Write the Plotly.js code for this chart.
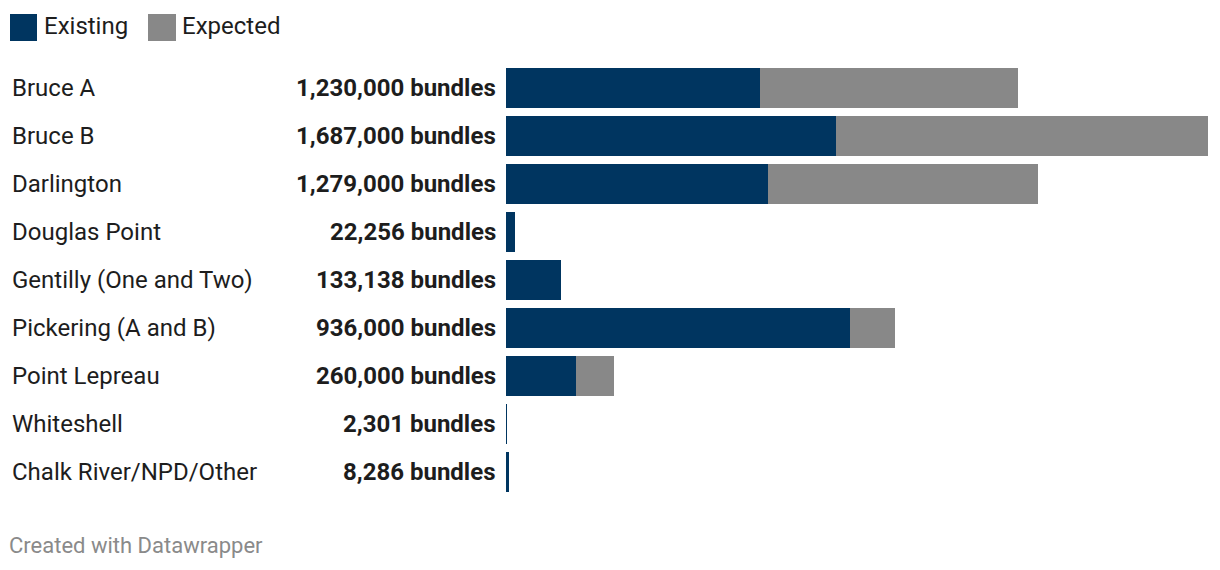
<!DOCTYPE html>
<html>
<head>
<meta charset="utf-8">
<script src="https://cdn.plot.ly/plotly-3.0.1.min.js"></script>
<style>
html,body{margin:0;padding:0;background:#fff;}
#chart{width:1220px;height:570px;}
</style>
</head>
<body>
<div id="chart"></div>
<script>
const categories = ["Bruce A","Bruce B","Darlington","Douglas Point","Gentilly (One and Two)","Pickering (A and B)","Point Lepreau","Whiteshell","Chalk River/NPD/Other"];
const existing = [610000, 793000, 630000, 22256, 133138, 827000, 168000, 2301, 8286];
const expected = [620000, 894000, 649000, 0, 0, 109000, 92000, 0, 0];
const totalLabels = ["1,230,000 bundles","1,687,000 bundles","1,279,000 bundles","22,256 bundles","133,138 bundles","936,000 bundles","260,000 bundles","2,301 bundles","8,286 bundles"];
const seriesNames = ["Existing","Expected"];
const colors = ["#003560","#888888"];

const FONT = "Roboto, 'Noto Sans', sans-serif";
const traces = [
  {type:'bar', orientation:'h', y:categories, x:existing, name:seriesNames[0], marker:{color:colors[0], line:{width:0}}, hoverinfo:'skip'},
  {type:'bar', orientation:'h', y:categories, x:expected, name:seriesNames[1], marker:{color:colors[1], line:{width:0}}, hoverinfo:'skip'}
];

const annotations = [];
categories.forEach((c,i)=>{
  annotations.push({xref:'paper', x:0, xanchor:'left', xshift:-496, yref:'y', y:c, yanchor:'middle',
    text:c, showarrow:false, font:{family:FONT, size:24, color:'#1d1d1d'}});
  annotations.push({xref:'paper', x:0, xanchor:'right', xshift:-8, yref:'y', y:c, yanchor:'middle',
    text:'<b>'+totalLabels[i]+'</b>', showarrow:false, font:{family:FONT, size:24, color:'#1d1d1d'}});
});
// legend texts
annotations.push({xref:'paper', x:0, xanchor:'left', xshift:-464, yref:'paper', y:1, yanchor:'middle', yshift:38,
  text:seriesNames[0], showarrow:false, font:{family:FONT, size:24, color:'#1d1d1d'}});
annotations.push({xref:'paper', x:0, xanchor:'left', xshift:-326, yref:'paper', y:1, yanchor:'middle', yshift:38,
  text:seriesNames[1], showarrow:false, font:{family:FONT, size:24, color:'#1d1d1d'}});
// footer
annotations.push({xref:'paper', x:0, xanchor:'left', xshift:-499, yref:'paper', y:0, yanchor:'middle', yshift:-49,
  text:'Created with Datawrapper', showarrow:false, font:{family:FONT, size:22, color:'#8a8a8a'}});

const shapes = [
  {type:'rect', xref:'paper', xsizemode:'pixel', xanchor:0, x0:-496, x1:-469,
   yref:'paper', ysizemode:'pixel', yanchor:1, y0:23, y1:50, fillcolor:colors[0], line:{width:0}},
  {type:'rect', xref:'paper', xsizemode:'pixel', xanchor:0, x0:-358, x1:-330,
   yref:'paper', ysizemode:'pixel', yanchor:1, y0:23, y1:50, fillcolor:colors[1], line:{width:0}}
];

const layout = {
  width:1220, height:570,
  margin:{l:506, r:12, t:64, b:74, pad:0},
  paper_bgcolor:'#fff', plot_bgcolor:'#fff',
  barmode:'stack', bargap:8/48,
  showlegend:false,
  xaxis:{range:[0,1687000], visible:false, fixedrange:true},
  yaxis:{type:'category', autorange:'reversed', visible:false, fixedrange:true},
  annotations:annotations, shapes:shapes,
  font:{family:FONT}
};
Plotly.newPlot('chart', traces, layout, {displayModeBar:false, staticPlot:true});
</script>
</body>
</html>
